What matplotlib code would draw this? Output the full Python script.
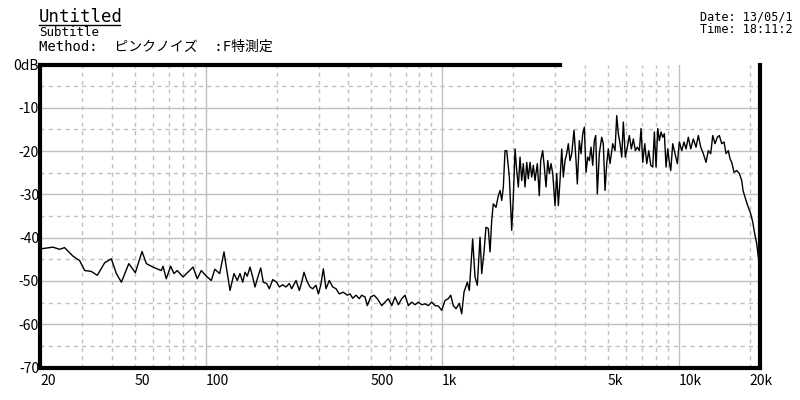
import matplotlib
matplotlib.use("Agg")
import matplotlib.pyplot as plt
from matplotlib.lines import Line2D

plt.rcParams['font.family'] = ['Noto Sans CJK JP', 'DejaVu Sans']

# frequency response (Hz, dB)
freq = [20, 22.6, 24.1, 25.3, 27.5, 29.3, 30.8, 32.8, 34.8, 37.4,
        39.9, 41.9, 44.0, 47.3, 50.4, 53.8, 56.1, 59.8, 64.9, 66.0,
        68.1, 71.1, 73.4, 75.8, 80.2, 88.4, 92.1, 95.8, 100.6, 105.6,
        109.2, 114.6, 119.5, 122.2,
        126.7, 131.7, 136.0, 139.6, 143.4, 146.6, 149.9, 153.9, 158.0, 161.6,
        165.3, 170.8, 175.2, 181.1, 185.8, 192.0, 199.6, 204.7, 211.6, 218.5,
        225.6, 231.0, 240.9, 248.8, 254.6, 260.4, 267.3, 276.0, 283.4, 292.6,
        299.4, 306.4, 314.3, 322.6, 333.1, 344.3, 355.5, 367.1, 381.7, 396.9,
        407.5, 418.3, 432.0, 446.1, 456.6, 471.5, 482.3, 498.5, 514.8, 531.6,
        554.9, 573.0, 591.7, 611.6, 631.6, 652.3, 674.2, 696.2, 718.9, 743.1,
        767.4, 792.5, 819.1, 845.9, 873.5, 902.9, 932.4, 962.8, 995.1, 1027.6,
        1061.2, 1086.3, 1114, 1144, 1181, 1209,
        1236, 1277, 1302, 1345, 1376, 1407, 1445, 1469, 1502, 1531,
        1566, 1593, 1619, 1644, 1688, 1727, 1756, 1785, 1813, 1843,
        1874, 1922, 1967, 1998, 2032, 2065, 2098, 2133, 2168, 2202,
        2239, 2277, 2312, 2351, 2390, 2428, 2468, 2524, 2573, 2609,
        2660, 2702, 2747, 2793, 2837, 2884, 2933, 2999, 3049, 3097,
        3148, 3201, 3251, 3305, 3360, 3413, 3470, 3528, 3608, 3679,
        3726, 3799, 3863, 3927, 3989, 4055, 4123, 4188, 4257, 4328,
        4396, 4456, 4526, 4615, 4724, 4798, 4879, 4960, 5038,
        5122, 5259, 5378, 5468, 5554, 5647, 5741, 5831, 5946, 6063,
        6182, 6304, 6428, 6554, 6683, 6815, 6929, 7045, 7183, 7324,
        7468, 7615, 7765, 7887, 8019, 8153, 8281, 8419, 8559, 8694,
        8839, 8987, 9128, 9253, 9432, 9646, 9865, 10059, 10297, 10530,
        10737, 10980, 11239, 11527, 11834, 12102, 12388, 12705, 13043, 13339,
        13654, 13923, 14238, 14561, 14847, 15199, 15543, 15848, 16207, 16478,
        16753, 17133, 17589, 18039, 18465, 18700, 19252, 19688, 20153, 20549,
        20953, 21365, 21700, 22060]
level = [-42.6, -42.2, -42.7, -42.3, -44.3, -45.3, -47.6, -47.8, -48.7, -45.8,
         -44.9, -48.3, -50.3, -46.0, -48.1, -43.2, -46.0, -46.8, -47.6, -46.6,
         -49.5, -46.6, -48.3, -47.6, -49.1, -46.8, -49.5, -47.6, -48.9, -49.9,
         -47.3, -48.3, -43.3, -46.8,
         -52.2, -48.3, -49.9, -48.3, -50.3, -48.0, -48.9, -46.8, -49.1, -51.4,
         -49.5, -47.0, -50.3, -50.6, -51.8, -49.7, -50.3, -51.4, -50.9, -51.4,
         -50.6, -51.8, -49.9, -52.2, -50.3, -48.0, -49.9, -51.4, -51.8, -51.0,
         -53.0, -51.0, -47.2, -51.8, -49.9, -51.4, -51.8, -53.0, -52.6, -53.3,
         -53.0, -54.0, -53.3, -54.1, -53.3, -53.7, -55.7, -53.7, -53.3, -54.1,
         -55.7, -54.9, -54.1, -55.7, -53.7, -55.5, -54.1, -53.3, -55.7, -54.9,
         -55.5, -54.9, -55.5, -55.3, -55.7, -54.9, -55.7, -55.8, -56.8, -54.5,
         -54.1, -53.3, -55.7, -56.4, -55.2, -57.6,
         -52.6, -50.3, -52.2, -40.3, -49.1, -51.0, -39.9, -48.3, -43.3, -37.6,
         -37.9, -43.3, -36.0, -32.2, -33.0, -30.3, -29.1, -31.4, -28.3, -19.9,
         -19.9, -26.0, -38.3, -30.6, -19.5, -24.5, -28.3, -21.4, -26.8, -22.9,
         -28.3, -22.6, -26.4, -22.6, -26.0, -23.3, -26.8, -22.9, -30.3, -22.2,
         -19.9, -23.7, -28.3, -22.2, -25.2, -22.9, -25.2, -32.6, -25.2, -32.6,
         -26.8, -19.5, -26.0, -22.2, -20.6, -18.3, -22.2, -20.6, -15.2, -22.2,
         -27.6, -17.6, -20.6, -16.0, -14.5, -24.9, -21.4, -22.2, -19.1, -23.3,
         -17.6, -16.4, -29.9, -20.6, -16.8, -18.3, -29.1, -22.9, -19.5,
         -22.9, -18.3, -19.9, -11.8, -16.0, -18.3, -21.4, -13.3, -21.4, -19.1,
         -16.4, -19.5, -17.2, -19.9, -19.1, -19.9, -14.8, -22.6, -18.3, -22.9,
         -19.9, -23.3, -23.7, -15.6, -23.7, -14.8, -17.6, -15.6, -16.8, -16.0,
         -23.7, -19.5, -22.6, -24.5, -18.3, -20.6, -22.9, -17.9, -19.9, -17.9,
         -19.5, -16.8, -19.5, -17.2, -19.1, -16.4, -19.1, -20.6, -22.6, -19.9,
         -20.6, -16.4, -18.3, -16.8, -16.4, -18.3, -17.9, -20.6, -19.9, -21.8,
         -22.6, -24.9, -24.5, -25.2, -26.8, -29.1, -31.4, -33.0, -34.5, -36.4,
         -39.1, -41.4, -44.5, -45.3]

xtick_vals = [20, 50, 100, 500, 1000, 5000, 10000, 20000]
xtick_labels = ['20', '50', '100', '500', '1k', '5k', '10k', '20k']
ytick_vals = [0, -10, -20, -30, -40, -50, -60, -70]
ytick_labels = ['0dB', '-10', '-20', '-30', '-40', '-50', '-60', '-70']

solid_x = [100, 1000, 10000]
dashed_x = [30, 40, 50, 60, 70, 80, 90, 200, 300, 400, 500, 600, 700, 800, 900,
            2000, 3000, 4000, 5000, 6000, 7000, 8000, 9000, 20000]
solid_y = [-10, -20, -30, -40, -50, -60]
dashed_y = [-5, -15, -25, -35, -45, -55, -65]

title = "Untitled"
subtitle = "Subtitle"
method = "Method:  ピンクノイズ  :F特測定"
date_txt = "Date: 13/05/1"
time_txt = "Time: 18:11:2"

mono = ['DejaVu Sans Mono', 'Noto Sans CJK JP']

W, H = 800, 400
fig = plt.figure(figsize=(8, 4), dpi=100)
ax = fig.add_axes([40.4 / W, 1 - 367.5 / H, 719.6 / W, 303 / H])
ax.set_xscale('log')
ax.set_xlim(20, 22060)
ax.set_ylim(-70, 0)

gc = '#c0c0c0'
for v in solid_x:
    ax.axvline(v, color=gc, lw=1, zorder=1)
for v in dashed_x:
    ax.axvline(v, color=gc, lw=1, ls=(0, (3, 3)), zorder=1)
for v in solid_y:
    ax.axhline(v, color=gc, lw=1, zorder=1)
for v in dashed_y:
    ax.axhline(v, color=gc, lw=1, ls=(0, (3, 3)), zorder=1)

ax.plot(freq, level, color='black', lw=1.0, zorder=3)

for side in ['left', 'bottom', 'right']:
    ax.spines[side].set_linewidth(3)
    ax.spines[side].set_color('black')
ax.spines['top'].set_visible(False)
# top border only drawn over the left part
ax.plot([20, 3150], [0, 0], color='black', lw=3, clip_on=False, zorder=4)

ax.minorticks_off()
ax.set_xticks(xtick_vals)
ax.set_xticklabels(xtick_labels)
ax.set_yticks(ytick_vals)
ax.set_yticklabels(ytick_labels)
ax.tick_params(axis='both', length=0, labelsize=10)
ax.tick_params(axis='x', pad=5)
ax.tick_params(axis='y', pad=1)
for lab in ax.get_xticklabels():
    lab.set_ha('left')

fig.text(39 / W, 1 - 22 / H, title, fontsize=12.5, va='baseline', ha='left',
         family=mono)
fig.add_artist(Line2D([39 / W, 120 / W], [1 - 25 / H, 1 - 25 / H],
                      color='black', lw=1))
fig.text(39 / W, 1 - 36 / H, subtitle, fontsize=9, va='baseline', ha='left',
         family=mono)
fig.text(39 / W, 1 - 51 / H, method, fontsize=10, va='baseline', ha='left',
         family=mono)
fig.text(700 / W, 1 - 21 / H, date_txt, fontsize=8.5, va='baseline', ha='left',
         family='DejaVu Sans Mono')
fig.text(700 / W, 1 - 33 / H, time_txt, fontsize=8.5, va='baseline', ha='left',
         family='DejaVu Sans Mono')

fig.savefig('out.png', dpi=100)
